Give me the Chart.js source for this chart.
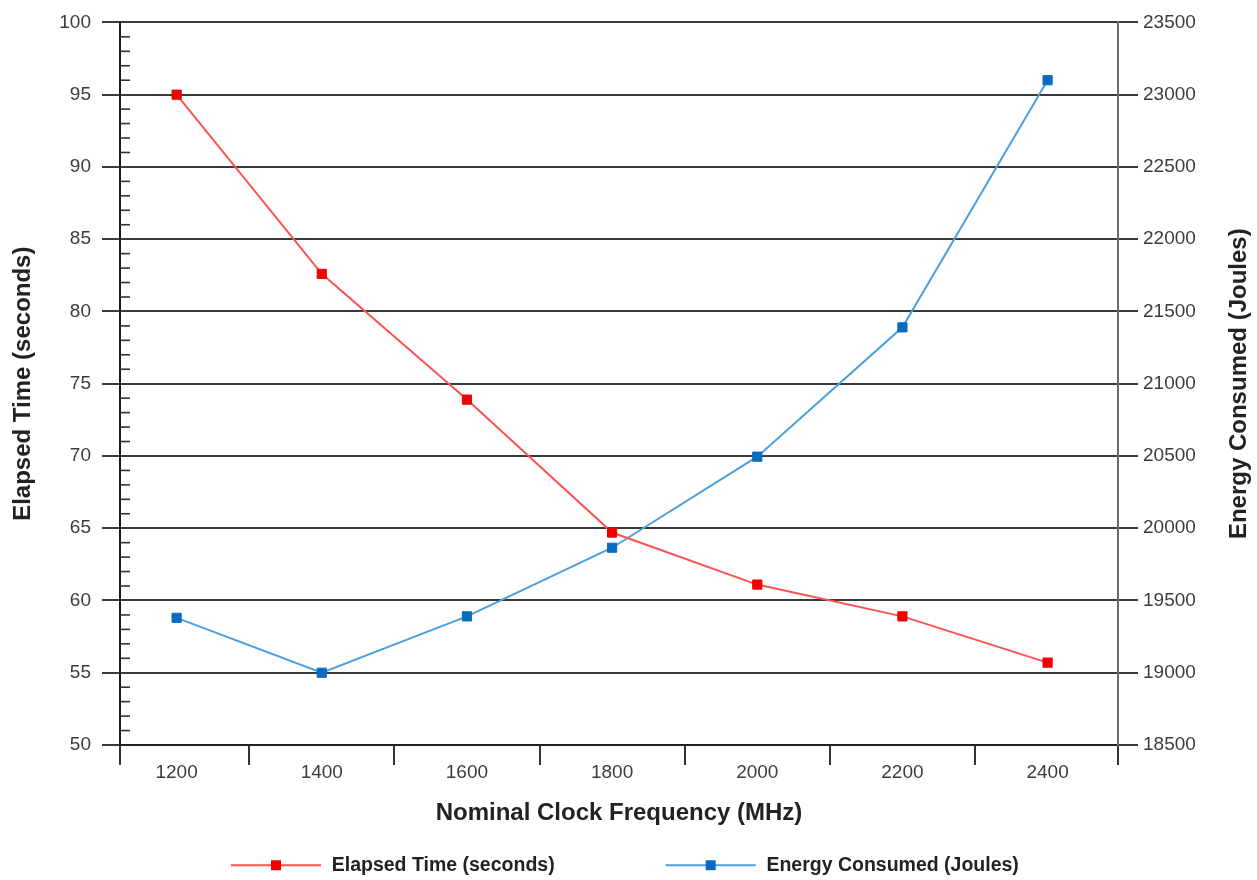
<!DOCTYPE html>
<html><head><meta charset="utf-8">
<script src="https://cdn.jsdelivr.net/npm/chart.js@4.4.1/dist/chart.umd.min.js"></script>
<style>html,body{margin:0;padding:0;background:#fff;} #wrap{width:1257px;height:880px;position:relative;}</style>
</head><body><div id="wrap"><canvas id="c"></canvas></div>
<script>
// ---- data ----
const frequencies = [1200, 1400, 1600, 1800, 2000, 2200, 2400];
const elapsedSeconds = [95.0, 82.6, 73.9, 64.7, 61.1, 58.9, 55.7];
const energyJoules = [19380, 19000, 19390, 19865, 20495, 21390, 23100];
const elapsedTicks = [50, 55, 60, 65, 70, 75, 80, 85, 90, 95, 100];
const energyTicks = [18500, 19000, 19500, 20000, 20500, 21000, 21500, 22000, 22500, 23000, 23500];
const elapsedLabel = 'Elapsed Time (seconds)';
const energyLabel = 'Energy Consumed (Joules)';
const elapsedTitle = 'Elapsed Time (seconds)';
const energyTitle = 'Energy Consumed (Joules)';
const xTitle = 'Nominal Clock Frequency (MHz)';

const FONT = '"Liberation Sans", Arial, Helvetica, sans-serif';
const RED_LINE = '#ff5252', RED_MARK = '#f20000';
const BLUE_LINE = '#4aa0de', BLUE_MARK = '#0a6cc0';
const GRID = '#3a3a3a', TICKTXT = '#3c3c3c', TITLE = '#222';

const LEG_BOX = 190;
function legendImg(lineColor, markColor) {
  const c = document.createElement('canvas');
  c.width = LEG_BOX; c.height = 14;
  const g = c.getContext('2d');
  g.strokeStyle = lineColor; g.lineWidth = 2;
  g.beginPath(); g.moveTo(LEG_BOX - 91, 7); g.lineTo(LEG_BOX - 1, 7); g.stroke();
  g.fillStyle = markColor; g.fillRect(LEG_BOX - 51, 2, 10, 10);
  return c;
}
const legendImgs = [legendImg(RED_LINE, RED_MARK), legendImg(BLUE_LINE, BLUE_MARK)];

// x tick marks sit midway between categories, labels on categories
const midPoints = frequencies.slice(1).map((f, i) => (f + frequencies[i]) / 2);

const decorPlugin = {
  id: 'decor',
  afterDraw(chart) {
    const {ctx, chartArea} = chart;
    const y = chart.scales.y;
    ctx.save();
    ctx.strokeStyle = '#333'; ctx.lineWidth = 1.6;
    for (let i = 0; i < elapsedTicks.length - 1; i++) {
      const a = elapsedTicks[i], b = elapsedTicks[i + 1];
      for (let k = 1; k < 5; k++) {
        const py = y.getPixelForValue(a + (b - a) * k / 5);
        ctx.beginPath(); ctx.moveTo(chartArea.left, py); ctx.lineTo(chartArea.left + 10, py); ctx.stroke();
      }
    }
    const y2 = chart.scales.y2;
    ctx.fillStyle = TITLE;
    ctx.font = 'bold 24px ' + FONT;
    ctx.translate(y2.right - 18, (chartArea.top + chartArea.bottom) / 2);
    ctx.rotate(-Math.PI / 2);
    ctx.textAlign = 'center'; ctx.textBaseline = 'middle';
    ctx.fillText(energyTitle, 0, 0);
    ctx.restore();
  }
};

new Chart(document.getElementById('c'), {
  type: 'line',
  data: {
    datasets: [
      {
        label: elapsedLabel,
        data: frequencies.map((f, i) => ({x: f, y: elapsedSeconds[i]})),
        yAxisID: 'y',
        borderColor: RED_LINE, borderWidth: 2,
        pointStyle: 'rect', pointRadius: 6.5,
        pointBackgroundColor: RED_MARK, pointBorderColor: RED_MARK, pointBorderWidth: 1,
        tension: 0, fill: false
      },
      {
        label: energyLabel,
        data: frequencies.map((f, i) => ({x: f, y: energyJoules[i]})),
        yAxisID: 'y2',
        borderColor: BLUE_LINE, borderWidth: 2,
        pointStyle: 'rect', pointRadius: 6.5,
        pointBackgroundColor: BLUE_MARK, pointBorderColor: BLUE_MARK, pointBorderWidth: 1,
        tension: 0, fill: false
      }
    ]
  },
  options: {
    responsive: true, maintainAspectRatio: false, animation: false,
    devicePixelRatio: 1,
    layout: {padding: {top: 20, bottom: -5, left: 0, right: 0}},
    plugins: {
      tooltip: {enabled: false},
      legend: {
        position: 'bottom', fullSize: false, align: 'start',
        labels: {
          usePointStyle: true, pointStyleWidth: LEG_BOX, padding: 12,
          color: TITLE, font: {family: FONT, size: 19.5, weight: 'bold'},
          generateLabels(chart) {
            const items = Chart.defaults.plugins.legend.labels.generateLabels(chart);
            items.forEach(it => { it.pointStyle = legendImgs[it.datasetIndex]; it.rotation = 0; });
            return items;
          }
        }
      }
    },
    scales: {
      x: {
        type: 'linear', position: 'bottom',
        min: 1122, max: 2497,
        afterBuildTicks(s) {
          const vals = [s.min, ...frequencies, ...midPoints, s.max].sort((a, b) => a - b);
          s.ticks = vals.map(v => ({value: v}));
        },
        afterFit(s) { s.height = 98.5; },
        ticks: {
          autoSkip: false, maxRotation: 0, padding: -4,
          color: TICKTXT, font: {family: FONT, size: 19},
          callback: v => frequencies.includes(v) ? String(v) : ''
        },
        grid: {
          drawOnChartArea: false, tickLength: 20, lineWidth: 2,
          color: c => (c.tick && frequencies.includes(c.tick.value)) ? 'rgba(0,0,0,0)' : '#333'
        },
        border: {color: '#222', width: 2},
        title: {display: true, text: xTitle, color: TITLE, font: {family: FONT, size: 24, weight: 'bold'},
                padding: {top: 0, bottom: 16}}
      },
      y: {
        type: 'linear', position: 'left', min: 50, max: 100,
        afterBuildTicks(s) { s.ticks = elapsedTicks.map(v => ({value: v})); },
        afterFit(s) { s.width = 120; },
        ticks: {padding: 11, color: TICKTXT, font: {family: FONT, size: 19}, callback: v => String(v)},
        grid: {color: GRID, lineWidth: 2, tickLength: 18},
        border: {color: '#1a1a1a', width: 2},
        title: {display: true, text: elapsedTitle, color: TITLE, font: {family: FONT, size: 24, weight: 'bold'},
                padding: {top: 8.6, bottom: 0}}
      },
      y2: {
        type: 'linear', position: 'right', min: 18500, max: 23500,
        afterBuildTicks(s) { s.ticks = energyTicks.map(v => ({value: v})); },
        afterFit(s) { s.width = 139; },
        ticks: {padding: 5, color: TICKTXT, font: {family: FONT, size: 19}, callback: v => String(v)},
        grid: {drawOnChartArea: false, color: GRID, lineWidth: 2, tickLength: 20},
        border: {color: '#6a6a6a', width: 2},
        title: {display: false}
      }
    }
  },
  plugins: [decorPlugin]
});
</script>
</body></html>
